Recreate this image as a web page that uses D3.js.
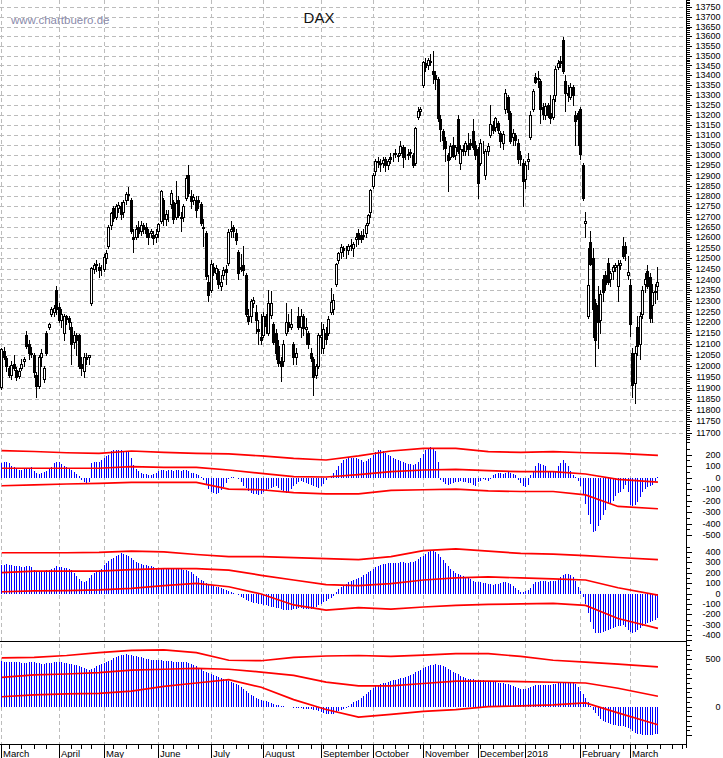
<!DOCTYPE html>
<html><head><meta charset="utf-8">
<script src="https://cdn.jsdelivr.net/npm/d3@7"></script>
<style>html,body{margin:0;padding:0;background:#fff;}svg{display:block;}</style>
</head><body>
<svg id="c" width="723" height="758"></svg>
<script>
// ---------- DATA (DAX daily, 1 Mar 2017 - 16 Mar 2018, trading-day index) ----------
const monthLabels   = ["March","April","May","June","July","August","September","October","November","December","2018","February","March"];
const monthStartIdx = [0,23,41,63,84,105,128,149,169,191,210,232,252];
const weekStartIdx  = [3,8,13,18,28,32,36,45,50,55,60,65,69,74,79,89,94,99,104,109,114,119,124,129,134,139,144,153,158,163,168,172,177,182,187,192,197,202,207,214,219,224,229,234,239,244,249,254,259,264,269,273];

const open = [
 11905,12070,12035,11990,11960,12010,11980,11955,11990,12020,12140,12100,12060,12050,11960,11910,12040,11940,12150,12180,12240,12250,12350,
 12270,12210,12150,12230,12220,12180,12110,12140,12140,12010,11975,12040,12040,12290,12450,12470,12460,12440,
 12450,12500,12560,12660,12740,12700,12740,12750,12720,12780,12810,12780,12600,12600,12650,12630,12660,12650,12620,12620,12610,12600,
 12630,12680,12780,12690,12710,12760,12770,12700,12780,12700,12700,12790,12900,12800,12780,12780,12780,12760,12650,12620,12390,
 12350,12460,12430,12440,12370,12420,12450,12480,12630,12650,12620,12530,12460,12470,12420,12230,12230,12290,12250,12170,12130,
 12140,12230,12150,12235,12190,12150,12090,12020,12020,12150,12200,12180,12100,12040,12230,12180,12230,12170,12150,12060,12030,11960,12000,
 12130,12080,12150,12150,12250,12260,12380,12490,12530,12550,12520,12540,12560,12550,12590,12620,12610,12610,12620,12670,12720,
 12850,12920,12970,12960,12960,12980,12950,12990,12990,13010,13000,13010,13040,12990,13000,13010,13000,12960,13190,13220,
 13350,13460,13450,13470,13420,13400,13380,13180,13120,13070,13000,12990,13050,13000,13180,12960,13030,13020,13050,13060,13120,13050,
 13030,12960,13050,12900,13020,13100,13150,13140,13160,13110,13060,13230,13290,13210,13090,13100,13060,13000,12960,
 12880,12970,13090,13230,13390,13380,13370,13240,13200,13250,13210,13190,13300,13440,13470,13580,13370,13310,13290,13340,13200,13210,
 13230,12950,12670,12230,12580,12500,12290,12280,12210,12400,12420,12480,12400,12440,12460,12370,12470,12560,12560,12420,
 12375,12060,11920,12180,12100,12240,12380,12440,12410,12280,12340,12370];
const high = [
 12080,12085,12045,12000,12020,12050,11995,11990,12030,12040,12160,12120,12085,12060,11970,12050,12075,12000,12160,12195,12270,12280,12370,
 12290,12260,12240,12235,12230,12200,12160,12150,12145,12040,12060,12060,12050,12460,12480,12490,12480,12470,
 12520,12540,12660,12720,12750,12760,12770,12770,12780,12820,12845,12790,12640,12660,12680,12680,12670,12670,12640,12640,12630,12640,
 12670,12830,12790,12730,12730,12830,12780,12870,12800,12720,12760,12900,12951,12830,12810,12800,12800,12770,12690,12630,12420,
 12490,12480,12470,12450,12420,12460,12470,12640,12680,12660,12640,12540,12520,12560,12430,12260,12310,12320,12280,12210,12240,
 12250,12240,12350,12345,12200,12170,12120,12040,12120,12290,12240,12263,12110,12080,12270,12260,12240,12220,12160,12080,12040,12010,12150,
 12200,12190,12180,12230,12360,12330,12480,12530,12570,12560,12560,12570,12590,12580,12620,12640,12630,12640,12670,12710,12835,
 12910,12980,12990,12980,12990,12990,12980,13010,13010,13030,13010,13070,13050,13040,13030,13030,13010,13140,13240,13240,
 13470,13490,13490,13510,13526,13420,13390,13200,13130,13090,13010,13060,13090,13050,13200,13050,13050,13070,13110,13080,13180,13070,
 13040,13080,13070,13030,13060,13250,13170,13190,13170,13120,13120,13330,13300,13220,13130,13110,13080,13020,12980,
 12970,13010,13220,13330,13410,13420,13380,13260,13260,13260,13300,13300,13445,13480,13500,13597,13400,13350,13360,13350,13220,13220,
 13240,12960,12720,12550,12630,12550,12310,12370,12350,12420,12440,12500,12440,12470,12480,12490,12490,12600,12580,12510,
 12400,12080,12090,12230,12250,12370,12430,12470,12430,12380,12380,12460];
const low = [
 11895,12030,11975,11950,11940,11980,11935,11945,11980,12000,12080,12030,12040,11950,11860,11900,12000,11925,12050,12170,12230,12230,12240,
 12200,12180,12120,12190,12170,12010,12080,12050,11990,11960,11950,12010,12010,12280,12430,12440,12410,12420,
 12440,12480,12550,12640,12680,12690,12720,12690,12700,12760,12780,12620,12530,12590,12600,12610,12620,12600,12570,12600,12570,12580,
 12600,12670,12660,12660,12680,12740,12670,12690,12700,12630,12680,12780,12800,12740,12760,12700,12740,12660,12560,12400,12300,
 12340,12420,12400,12360,12350,12400,12380,12470,12600,12600,12570,12400,12440,12420,12230,12190,12200,12270,12150,12100,12100,
 12130,12150,12140,12220,12100,12030,12000,11930,12000,12140,12160,12170,12010,12010,12170,12130,12140,12100,12080,12020,11868,11945,11990,
 12060,12060,12100,12140,12240,12240,12370,12480,12500,12510,12500,12520,12540,12510,12560,12570,12580,12590,12600,12660,12700,
 12840,12900,12940,12920,12940,12920,12930,12960,12970,12990,12970,13000,12940,12980,12980,12990,12940,12950,13180,13200,
 13340,13420,13430,13450,13360,13330,13170,13070,13030,12970,12825,12980,12990,12980,13010,12930,13000,13000,13000,13030,13030,12980,
 12790,12950,13010,12880,13000,13090,13110,13120,13110,13040,13030,13210,13180,13060,13050,13050,12960,12950,12750,
 12840,12930,13080,13220,13360,13340,13160,13180,13180,13190,13160,13180,13270,13430,13440,13410,13220,13270,13280,13250,13050,13050,
 12980,12780,12600,12220,12470,12130,12000,12080,12150,12300,12350,12380,12370,12400,12440,12300,12450,12500,12490,12400,
 12135,11860,11830,12050,12030,12220,12340,12360,12200,12200,12290,12310];
const close = [
 12075,12040,12000,11960,12005,11990,11950,11975,12010,12030,12090,12060,12055,11970,11910,12040,12060,11990,12060,12190,12260,12265,12260,
 12210,12240,12230,12215,12200,12100,12140,12120,12000,11990,12040,12030,12048,12455,12467,12473,12443,12438,
 12507,12527,12648,12716,12694,12749,12757,12711,12770,12807,12804,12631,12590,12638,12619,12659,12642,12622,12602,12629,12599,12615,
 12665,12822,12690,12714,12714,12816,12690,12765,12706,12691,12753,12888,12814,12774,12794,12733,12771,12671,12647,12416,12325,
 12475,12437,12453,12381,12389,12445,12437,12627,12641,12632,12588,12430,12450,12447,12240,12208,12300,12305,12212,12162,12118,
 12230,12181,12290,12290,12110,12060,12014,12000,12100,12200,12177,12190,12040,12060,12180,12230,12174,12180,12100,12035,11950,12000,12140,
 12142,12170,12124,12215,12296,12303,12475,12525,12553,12540,12519,12559,12561,12570,12600,12592,12594,12605,12657,12705,12829,
 12902,12970,12968,12956,12976,12949,12970,12982,12992,13004,12995,13043,12990,12991,13003,13013,12953,13134,13217,13229,
 13465,13440,13479,13468,13406,13382,13183,13127,13074,13033,12976,13047,12994,13040,13020,13030,13020,13060,13030,13050,13040,13000,
 12861,13058,13048,13020,13045,13153,13123,13183,13125,13068,13103,13312,13215,13070,13110,13072,12980,12979,12870,
 12950,12978,13200,13319,13367,13385,13230,13202,13245,13200,13183,13280,13434,13463,13463,13420,13310,13298,13340,13300,13170,13180,
 13004,12790,12680,12375,12475,12260,12120,12200,12330,12340,12380,12390,12430,12460,12470,12470,12480,12510,12527,12436,
 12190,11914,12060,12090,12230,12350,12400,12370,12220,12340,12345,12390];

// lower panels: histogram values
const osc1 = [
 130,135,135,125,100,90,80,70,70,75,80,85,90,55,45,30,40,50,60,75,95,130,140,
 135,120,105,95,85,70,50,35,15,-20,-35,-50,-40,125,135,140,140,150,
 170,185,200,230,240,245,240,240,235,230,220,170,110,80,60,40,35,30,25,25,35,45,
 55,65,70,60,65,70,60,65,70,60,65,65,55,45,40,30,20,10,-20,-60,-100,
 -125,-135,-140,-130,-110,-80,-50,-10,5,8,0,-15,-40,-70,-90,-115,-130,-140,-145,-150,-140,
 -125,-110,-100,-90,-80,-75,-90,-110,-120,-130,-125,-100,-70,-55,-40,-30,-35,-45,-55,-60,-70,-85,-90,
 -75,-55,-20,0,15,40,70,100,130,150,165,170,175,172,170,165,150,140,145,160,175,
 200,225,240,240,230,215,200,190,175,165,155,145,135,125,120,115,110,120,140,170,
 210,240,260,265,255,230,140,-20,-40,-55,-60,-55,-45,-40,-35,-30,-40,-35,-45,-50,-60,-70,
 -40,-25,-15,-20,-30,-10,20,30,40,45,35,40,50,40,30,20,-20,-50,-75,
 -80,-60,20,60,100,130,120,110,100,60,55,50,50,100,130,150,130,100,60,20,5,-30,
 -70,-150,-230,-320,-400,-470,-460,-420,-370,-320,-280,-230,-220,-200,-160,-130,-120,-100,-60,-120,
 -240,-250,-240,-210,-170,-120,-100,-80,-70,-60,-30,10];
const osc2 = [
 270,275,280,275,270,265,262,260,258,255,260,262,255,230,220,210,215,220,225,230,240,250,260,
 258,255,250,245,240,230,200,170,140,120,115,125,150,175,195,210,225,240,
 270,290,310,330,345,360,375,385,380,370,360,340,320,300,290,280,275,270,265,260,255,250,
 245,250,245,240,245,250,245,240,235,240,230,225,220,210,190,170,150,130,120,100,90,
 80,70,65,60,55,45,35,25,15,5,-5,-15,-30,-45,-60,-70,-80,-90,-95,-100,-100,
 -110,-115,-120,-125,-130,-135,-140,-150,-155,-160,-160,-155,-150,-145,-140,-140,-145,-150,-150,-145,-140,-130,-115,
 -100,-85,-70,-55,-40,-20,10,40,60,80,95,110,120,130,140,150,160,175,190,205,215,
 240,255,265,275,280,285,290,292,295,295,298,300,300,298,295,300,305,315,330,350,
 365,380,395,405,410,400,380,350,320,290,260,240,220,200,190,175,165,155,145,135,125,115,
 110,110,105,100,95,90,85,90,95,100,110,110,100,90,70,50,30,15,10,
 20,35,55,90,110,115,118,120,118,115,118,120,125,140,160,180,190,185,175,160,120,60,
 20,-30,-100,-190,-270,-340,-375,-380,-375,-370,-360,-350,-340,-330,-320,-315,-310,-305,-320,-350,
 -370,-375,-370,-355,-330,-310,-295,-285,-275,-265,-250,-240];
const osc3 = [
 478,476,474,472,470,470,468,467,465,465,466,468,470,468,463,458,455,455,458,462,466,470,472,
 472,470,465,460,455,450,445,440,430,415,405,395,390,395,410,425,440,450,
 460,470,480,495,510,525,535,545,550,552,550,545,540,535,528,520,512,505,500,497,495,492,
 490,488,485,482,480,478,476,475,474,472,470,468,460,450,440,425,410,395,380,370,355,
 345,335,325,315,305,295,285,275,265,255,240,225,205,185,165,145,125,110,95,85,75,
 65,55,45,35,28,22,15,10,5,0,-5,-8,-10,-12,-15,-18,-20,-22,-25,-28,-32,-38,-45,
 -55,-65,-72,-78,-80,-75,-60,-45,-30,-20,-10,10,30,45,60,75,95,115,135,155,175,
 200,215,225,235,245,255,262,270,278,285,292,300,308,318,328,338,350,362,375,390,
 405,420,432,440,445,448,445,440,430,415,400,385,370,355,340,325,312,300,295,290,287,285,
 282,280,277,275,272,270,265,260,255,250,245,240,235,230,220,210,200,190,185,
 190,200,210,220,228,230,232,232,230,230,232,235,240,245,250,255,258,260,258,250,240,210,
 170,130,90,50,10,-30,-70,-100,-130,-150,-165,-175,-185,-190,-195,-200,-200,-205,-210,-220,
 -240,-260,-275,-285,-290,-295,-298,-298,-298,-295,-290,-285];

// red envelope lines, sampled at these trading-day indices
const bandIdx   = [0,13,26,39,52,65,78,91,104,117,130,143,156,169,182,195,208,221,234,247,263];
const osc1Upper = [235,228,217,212,232,221,212,207,189,168,154,189,232,255,255,226,221,226,217,212,194];
const osc1Mid   = [82,82,82,82,96,90,90,67,38,9,6,26,52,67,73,61,52,52,32,-14,-38];
const osc1Lower = [-70,-62,-55,-50,-40,-40,-40,-100,-105,-130,-140,-140,-110,-105,-100,-115,-120,-120,-150,-250,-270];
const osc2Upper = [392,392,392,395,408,400,375,354,354,345,335,325,354,412,430,408,385,378,365,346,325];
const osc2Mid   = [200,215,215,215,230,240,240,225,175,130,85,75,95,130,150,160,150,140,130,55,-15];
const osc2Lower = [17,25,28,34,50,75,98,65,-5,-110,-160,-135,-150,-130,-115,-105,-100,-95,-115,-240,-335];
const osc3Upper = [515,520,540,570,595,600,570,490,485,520,535,540,530,545,560,560,530,490,470,450,420];
const osc3Mid   = [310,335,345,360,385,395,405,395,365,330,260,220,220,245,270,270,265,258,250,195,110];
const osc3Lower = [105,125,135,140,165,215,250,285,205,75,-30,-110,-80,-50,-30,0,8,20,40,-65,-190];

const priceTicks = d3.range(11700, 13751, 50);
const osc1Ticks = [200,100,0,-100,-200,-300,-400,-500];
const osc2Ticks = [400,300,200,100,0,-100,-200,-300,-400];
const osc3Ticks = [500,0];

// ---------- DRAWING ----------
const svg = d3.select("#c");
const FONT = "'Liberation Sans', Arial, sans-serif";
const axisX = 686.5, bottomY = 744;

const x  = d3.scaleLinear().domain([0,252]).range([1.7,630.5]);
const px = i => Math.floor(x(i)) + 0.5;
const yP = d3.scaleLog().domain([11700,13750]).range([432.5,7.3]);
const y1 = d3.scaleLinear().domain([0,100]).range([477.7,466.2]);
const y2 = d3.scaleLinear().domain([0,100]).range([593.5,583.1]);
const y3 = d3.scaleLinear().domain([0,500]).range([706.7,659.3]);

svg.append("rect").attr("width",723).attr("height",758).attr("fill","#fff");

// grid
const grid = svg.append("g").attr("stroke","#bcbcbc").attr("stroke-width",1)
  .attr("stroke-dasharray","4,3").attr("shape-rendering","crispEdges");
grid.selectAll("line.h").data(priceTicks).join("line").attr("class","h")
  .attr("x1",0).attr("x2",axisX).attr("y1",d=>Math.round(yP(d))+0.5).attr("y2",d=>Math.round(yP(d))+0.5);
grid.selectAll("line.v").data(monthStartIdx).join("line").attr("class","v")
  .attr("x1",d=>px(d)).attr("x2",d=>px(d)).attr("y1",0).attr("y2",bottomY);

// texts
svg.append("text").attr("x",11).attr("y",24).attr("font-family",FONT).attr("font-size",11.5)
  .attr("fill","#8a8aaa").text("www.chartbuero.de");
svg.append("text").attr("x",319).attr("y",23).attr("text-anchor","middle").attr("font-family",FONT)
  .attr("font-size",15).attr("fill","#111").text("DAX");

// candles
const idx = d3.range(close.length);
const cg = svg.append("g").attr("shape-rendering","crispEdges");
cg.selectAll("line").data(idx).join("line")
  .attr("x1",px).attr("x2",px)
  .attr("y1",i=>Math.round(yP(high[i]))).attr("y2",i=>Math.round(yP(low[i]))+1)
  .attr("stroke","#000").attr("stroke-width",1);
cg.selectAll("rect").data(idx).join("rect")
  .attr("x",i=>px(i)-1)
  .attr("y",i=>Math.round(yP(Math.max(open[i],close[i])))+0.5)
  .attr("width",2)
  .attr("height",i=>Math.max(0,Math.round(yP(Math.min(open[i],close[i])))-Math.round(yP(Math.max(open[i],close[i])))))
  .attr("fill",i=>close[i]>=open[i]?"#fff":"#000")
  .attr("stroke","#000").attr("stroke-width",1);

// oscillator panels
function panel(vals, ys, up, mid, lo){
  const g = svg.append("g");
  g.append("g").attr("shape-rendering","crispEdges").selectAll("line").data(idx).join("line")
    .attr("x1",px).attr("x2",px)
    .attr("y1",ys(0)).attr("y2",i=>ys(vals[i]))
    .attr("stroke","#0000ff").attr("stroke-width",1);
  const line = d3.line().x((d,k)=>x(bandIdx[k])).y(d=>ys(d));
  [up,mid,lo].forEach(arr=>{
    g.append("path").attr("d",line(arr)).attr("fill","none")
      .attr("stroke","#ff0000").attr("stroke-width",1.7);
  });
}
panel(osc1, y1, osc1Upper, osc1Mid, osc1Lower);
panel(osc2, y2, osc2Upper, osc2Mid, osc2Lower);
panel(osc3, y3, osc3Upper, osc3Mid, osc3Lower);

// separator between panel 2 and 3
svg.append("line").attr("x1",0).attr("x2",axisX).attr("y1",641.5).attr("y2",641.5)
  .attr("stroke","#000").attr("shape-rendering","crispEdges");

// right axis
const ax = svg.append("g").attr("shape-rendering","crispEdges").attr("stroke","#000");
ax.append("line").attr("x1",axisX).attr("x2",axisX).attr("y1",0).attr("y2",bottomY+4);
const minorP = d3.range(11660, 13800, 10);
ax.selectAll("line.mp").data(minorP).join("line").attr("class","mp")
  .attr("x1",axisX).attr("x2",d=>axisX+(d%50===0?5:3))
  .attr("y1",d=>Math.round(yP(d))+0.5).attr("y2",d=>Math.round(yP(d))+0.5);
function panelTicks(ys, lo, hi, step){
  const t = d3.range(lo, hi+1, step/2);
  ax.append("g").selectAll("line").data(t).join("line")
    .attr("x1",axisX).attr("x2",d=>axisX+(d%step===0?5:3))
    .attr("y1",d=>Math.round(ys(d))+0.5).attr("y2",d=>Math.round(ys(d))+0.5);
}
panelTicks(y1,-500,250,100);
panelTicks(y2,-400,450,100);
panelTicks(y3,-300,700,100);

const lab = svg.append("g").attr("font-family",FONT).attr("font-size",9).attr("fill","#000").attr("text-anchor","end");
function labels(ticks, ys){
  lab.append("g").selectAll("text").data(ticks).join("text")
    .attr("x",720.5).attr("y",d=>ys(d)).attr("dy","0.35em").text(d=>d);
}
labels(priceTicks, yP);
labels(osc1Ticks, y1);
labels(osc2Ticks, y2);
labels(osc3Ticks, y3);

// bottom time axis
const bx = svg.append("g").attr("shape-rendering","crispEdges").attr("stroke","#000");
bx.append("line").attr("x1",0).attr("x2",axisX).attr("y1",bottomY+0.5).attr("y2",bottomY+0.5);
bx.selectAll("line.w").data(weekStartIdx).join("line").attr("class","w")
  .attr("x1",px).attr("x2",px).attr("y1",bottomY).attr("y2",bottomY+5);
bx.selectAll("line.m").data(monthStartIdx).join("line").attr("class","m")
  .attr("x1",px).attr("x2",px).attr("y1",bottomY).attr("y2",758);
svg.append("g").attr("font-family",FONT).attr("font-size",9.5).attr("fill","#000")
  .selectAll("text").data(monthStartIdx).join("text")
  .attr("x",d=>px(d)+1.5).attr("y",756.5).text((d,k)=>monthLabels[k]);
</script>
</body></html>
